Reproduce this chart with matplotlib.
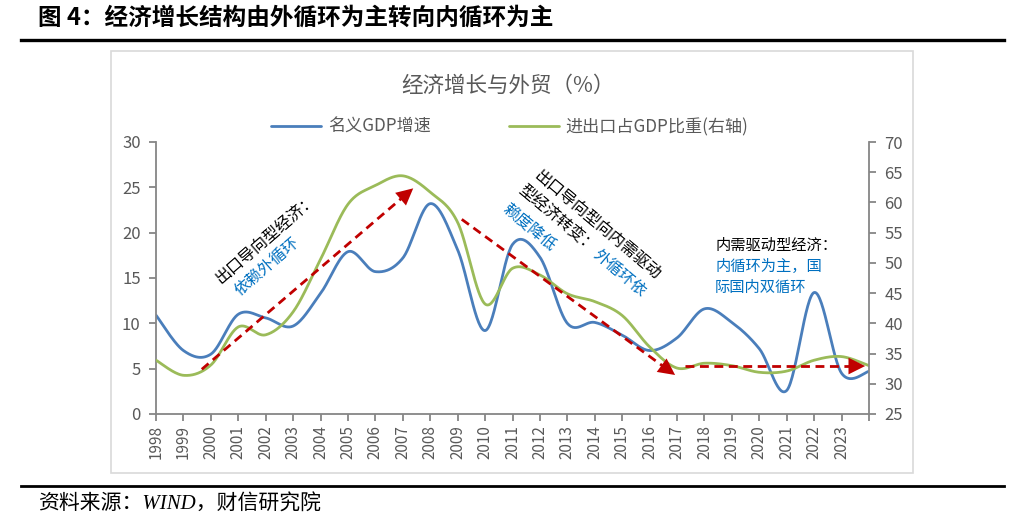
import numpy as np
import matplotlib
matplotlib.use("Agg")
import matplotlib.pyplot as plt
from matplotlib.patches import Rectangle
from matplotlib.lines import Line2D

plt.rcParams['font.family'] = ['Noto Sans CJK SC', 'DejaVu Sans']

# ---------------- data ----------------
years = list(range(1998, 2025))
year_labels = [str(y) for y in range(1998, 2024)] + ['']
gdp_growth = [10.9, 7.0, 6.6, 11.0, 10.6, 9.7, 13.3, 17.9, 15.7, 17.2, 23.2, 18.1, 9.2,
              18.7, 17.3, 10.0, 10.1, 8.7, 7.0, 8.4, 11.6, 10.1, 7.2, 2.6, 13.4, 4.5, 4.7]
trade_share = [33.9, 31.4, 33.1, 39.4, 38.1, 41.9, 50.6, 59.7, 62.8, 64.4, 61.7, 56.7, 43.2,
               49.1, 48.0, 44.9, 43.6, 41.3, 36.1, 32.6, 33.4, 33.0, 31.9, 32.1, 33.9, 34.5, 33.0]
series_names = ['名义GDP增速', '进出口占GDP比重(右轴)']
left_ticks = [0, 5, 10, 15, 20, 25, 30]
right_ticks = [25, 30, 35, 40, 45, 50, 55, 60, 65, 70]

# annotation arrows (start year, start value, tip year, tip value) on left axis
arrows = [(1999.67, 4.93, 2007.38, 24.89),
          (2009.15, 21.47, 2016.93, 4.30),
          (2017.29, 5.29, 2023.86, 5.29)]

title_text = '图 4：经济增长结构由外循环为主转向内循环为主'
chart_title = '经济增长与外贸（%）'
source_text = '资料来源：WIND，财信研究院'

# ---------------- helpers ----------------
def smooth(xs, ys, n=30):
    """Excel-like smoothed line (Catmull-Rom Bezier through every point)."""
    P = np.column_stack([xs, ys]).astype(float)
    out = []
    m = len(P)
    for i in range(m - 1):
        p0 = P[i - 1] if i > 0 else P[i]
        p1 = P[i]
        p2 = P[i + 1]
        p3 = P[i + 2] if i + 2 < m else P[i + 1]
        c1 = p1 + (p2 - p0) / 6.0
        c2 = p2 - (p3 - p1) / 6.0
        t = np.linspace(0, 1, n, endpoint=(i == m - 2))[:, None]
        seg = ((1 - t) ** 3) * p1 + 3 * ((1 - t) ** 2) * t * c1 + 3 * (1 - t) * t ** 2 * c2 + t ** 3 * p2
        out.append(seg)
    S = np.vstack(out)
    return S[:, 0], S[:, 1]

W, H = 1018, 531
fig = plt.figure(figsize=(W / 100, H / 100), dpi=100)

def fx(px):
    return px / W

def fy(py):
    return 1 - py / H

BLUE = '#4A7EBB'
GREEN = '#9BBB59'
RED = '#C00000'
TXTBLUE = '#0070C0'
GRAY = '#595959'
AXC = '#868686'

# heading and rules
fig.text(fx(38), fy(18), title_text, fontsize=17, fontweight='bold', color='black',
         ha='left', va='center')
fig.add_artist(Line2D([fx(21), fx(1004)], [fy(39.5), fy(39.5)], color='black', lw=2.4))
fig.add_artist(Line2D([fx(21), fx(1004)], [fy(485.5), fy(485.5)], color='black', lw=2.0))
fig.text(fx(38), fy(505), source_text, fontsize=15, style='italic', color='black',
         ha='left', va='center', family=['Liberation Serif', 'Noto Sans CJK SC'])

# chart frame
fig.add_artist(Rectangle((fx(111), fy(473)), fx(913) - fx(111), fy(51) - fy(473),
                         transform=fig.transFigure, fill=False, edgecolor='#D9D9D9', lw=1.2))

ax = fig.add_axes([fx(156), fy(414), fx(869) - fx(156), fy(142) - fy(414)])
ax2 = ax.twinx()

sx, sy = smooth(years, gdp_growth)
l1, = ax.plot(sx, sy, color=BLUE, lw=2.0, solid_capstyle='round', label=series_names[0])
gx, gy = smooth(years, trade_share)
l2, = ax2.plot(gx, gy, color=GREEN, lw=2.0, solid_capstyle='round', label=series_names[1])

ax.set_xlim(years[0], years[-1])
ax.set_ylim(left_ticks[0], left_ticks[-1])
ax2.set_ylim(right_ticks[0], right_ticks[-1])
ax.set_xticks(years)
ax.set_xticklabels(year_labels, rotation=90, fontsize=11, color=GRAY)
ax.set_yticks(left_ticks)
ax.set_yticklabels([str(v) for v in left_ticks], fontsize=12, color=GRAY)
ax2.set_yticks(right_ticks)
ax2.set_yticklabels([str(v) for v in right_ticks], fontsize=12, color=GRAY)

for a in (ax, ax2):
    a.spines['top'].set_visible(False)
    for s in ('left', 'right', 'bottom'):
        a.spines[s].set_color(AXC)
        a.spines[s].set_linewidth(1.3)
    a.tick_params(axis='both', color=AXC, length=5, width=1.3, direction='out')
    a.patch.set_visible(False)
ax.spines['right'].set_visible(False)
ax2.spines['left'].set_visible(False)
ax2.spines['bottom'].set_visible(False)
ax.tick_params(axis='x', pad=3)
ax.tick_params(axis='y', pad=6)
ax2.tick_params(axis='y', pad=6)

# arrows (drawn above both lines, in left-axis units)
for (x0, y0, x1, y1) in arrows:
    xe = x1 - 0.12 * (x1 - x0)
    ye = y1 - 0.12 * (y1 - y0)
    ax2.plot([x0, xe + 0.6 * (x1 - xe)], [y0, ye + 0.6 * (y1 - ye)], transform=ax.transData,
             color=RED, lw=2.0, dashes=(3.2, 2.0), solid_capstyle='butt', zorder=5)
    ax2.annotate('', xy=(x1, y1), xytext=(xe, ye), xycoords=ax.transData, textcoords=ax.transData,
                 arrowprops=dict(arrowstyle='-|>,head_length=0.6,head_width=0.3', mutation_scale=20,
                                 color=RED, lw=0, shrinkA=0, shrinkB=0), zorder=6)

# rotated annotations
tk = dict(transform=ax.transData, ha='center', va='center', rotation_mode='anchor', fontsize=11.5, zorder=7)
ax2.text(2002.03, 19.36, '出口导向型经济：', color='black', rotation=41, **tk)
ax2.text(2002.03, 16.32, '依赖外循环', color=TXTBLUE, rotation=41, **tk)
ax2.text(2014.10, 20.88, '出口导向型向内需驱动', color='black', rotation=-40, **tk)
ax2.text(2012.62, 21.45, '型经济转变：', color='black', rotation=-40, **tk)
ax2.text(2014.89, 15.55, '外循环依', color=TXTBLUE, rotation=-40, **tk)
ax2.text(2011.60, 20.51, '赖度降低', color=TXTBLUE, rotation=-40, **tk)
th = dict(transform=ax.transData, ha='left', va='center', fontsize=11, zorder=7)
ax2.text(2018.39, 18.64, '内需驱动型经济：', color='black', **th)
ax2.text(2018.39, 16.32, '内循环为主，国', color=TXTBLUE, **th)
ax2.text(2018.39, 14.01, '际国内双循环', color=TXTBLUE, **th)

# chart title and legend
fig.text(fx(508), fy(86), chart_title, fontsize=15.5, color=GRAY, ha='center', va='center')
fig.legend(handles=[l1, l2], loc='center', bbox_to_anchor=(fx(510), fy(127)), ncol=2,
           frameon=False, fontsize=12.3, handlelength=2.9, handletextpad=0.4, columnspacing=4.6,
           labelcolor=GRAY)

fig.savefig('out.png', dpi=100)
